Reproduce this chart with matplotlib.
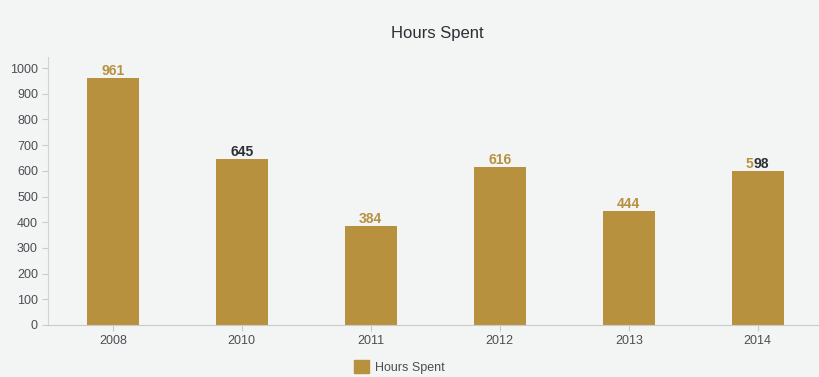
import matplotlib
matplotlib.use("Agg")
import matplotlib.pyplot as plt
from matplotlib.patches import Patch

categories = ["2008", "2010", "2011", "2012", "2013", "2014"]
hours = [961, 645, 384, 616, 444, 598]
label_colors = ["#b8913f", "#2b2f33", "#b8913f", "#b8913f", "#b8913f", None]
yticks = list(range(0, 1001, 100))

bar_color = "#b8913f"
dark = "#2b2f33"
bg = "#f3f4f4"
plt.rcParams["font.family"] = ["Liberation Sans", "DejaVu Sans"]

fig = plt.figure(figsize=(8.19, 3.77), dpi=100, facecolor=bg)
ax = fig.add_axes([0.059, 0.138, 0.945, 0.712], facecolor=bg)

x = list(range(len(categories)))
ax.bar(x, hours, width=0.4, color=bar_color, zorder=2)
for xi, v, c in zip(x, hours, label_colors):
    if c is None:
        # last label rendered with mixed colours: gold first digit, dark rest
        s = str(v)
        ax.annotate(s[0], (xi, v), xytext=(-3, 0), textcoords="offset points",
                    ha="right", va="bottom", fontsize=10, color=bar_color, fontweight="bold")
        ax.annotate(s[1:], (xi, v), xytext=(-3, 0), textcoords="offset points",
                    ha="left", va="bottom", fontsize=10, color=dark, fontweight="bold")
    else:
        ax.annotate(str(v), (xi, v), xytext=(0, 0), textcoords="offset points",
                    ha="center", va="bottom", fontsize=10, color=c, fontweight="bold")

ax.set_xlim(-0.5, len(categories) - 0.5)
ax.set_ylim(0, 1045)
ax.set_yticks(yticks)
ax.set_xticks(x)
ax.set_xticklabels(categories)
ax.tick_params(axis="both", colors="#c8cccc", labelcolor="#4a4f53", labelsize=9, length=4)
for s in ["top", "right"]:
    ax.spines[s].set_visible(False)
ax.spines["left"].set_color("#d0d4d4")
ax.spines["bottom"].set_color("#c8cccc")

fig.text(0.534, 0.91, "Hours Spent", ha="center", va="center", fontsize=12, color=dark)
fig.legend(handles=[Patch(color=bar_color)], labels=["Hours Spent"], loc="center",
           bbox_to_anchor=(0.488, 0.027), frameon=False, fontsize=9, labelcolor="#4a4f53",
           handlelength=1.2, handleheight=1.2, handletextpad=0.5)

fig.savefig("out.png", dpi=100, facecolor=bg)
